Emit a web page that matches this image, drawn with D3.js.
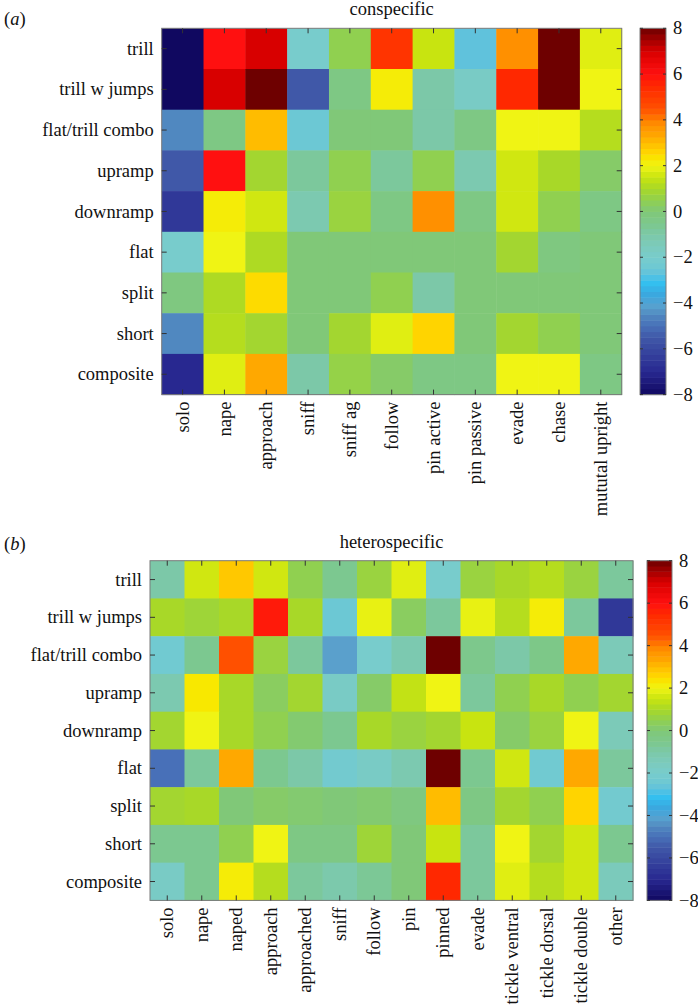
<!DOCTYPE html>
<html><head><meta charset="utf-8">
<script src="https://cdn.jsdelivr.net/npm/d3@7"></script>
<style>
body{margin:0;background:#fff}
text{font-family:"Liberation Serif","Times New Roman",Times,serif;fill:#111}
</style>
</head><body>
<svg id="c" width="698" height="1005"></svg>
<script>
// ---------- data ----------
const rows = ["trill","trill w jumps","flat/trill combo","upramp","downramp","flat","split","short","composite"];
const colsA = ["solo","nape","approach","sniff","sniff ag","follow","pin active","pin passive","evade","chase","mututal upright"];
const colsB = ["solo","nape","naped","approach","approached","sniff","follow","pin","pinned","evade","tickle ventral","tickle dorsal","tickle double","other"];

const valuesA = [
  [-8, 6, 7, -2, 0.5, 5.2, 1.5, -2.7, 3.8, 8, 1.8],
  [-8, 7, 8, -5.5, -0.3, 2.2, -1, -1.8, 5.5, 8, 2],
  [-4.5, -0.3, 3, -2.5, 0, 0, -1, -0.3, 2, 2, 1.2],
  [-5.5, 6, 0.9, -0.8, 0.5, -0.8, 0.5, -1.2, 1.6, 1, 0.2],
  [-6.5, 2.2, 1.6, -1.2, 0.7, -0.3, 3.8, -0.3, 1.6, 0.5, -0.3],
  [-2, 2, 1.1, 0, 0, 0, 0, 0, 0.9, -0.2, 0],
  [-0.2, 1.1, 2.5, 0, 0, 0.5, -1, 0, 0, 0, 0],
  [-4.5, 1.2, 0.9, 0, 0.9, 1.8, 2.6, 0, 0.9, 0.5, 0],
  [-7, 1.8, 3.3, -1, 0.6, 0.2, -0.3, -0.3, 2, 2, -0.3]
];
const valuesB = [
  [-1, 1.6, 2.8, 1.6, 0.5, -0.6, 0.7, 1.8, -2, 0.7, 1, 1.2, 0.7, -0.8],
  [1, 0.8, 1, 5.8, 1, -2.5, 1.9, 0.3, -0.8, 1.9, 1.2, 2.2, -0.8, -6.5],
  [-2.3, -0.6, 4.5, 0.7, -0.8, -4.2, -2, -1.2, 8, -0.5, -1, -0.4, 3.3, -1.4],
  [-1.2, 2.3, 1, 0.3, 0.9, -1.8, 0.2, 1.4, 2, -0.8, 0.5, 1, 0.5, 0.9],
  [0.9, 2, 1, 0.5, 0.1, -0.6, 1, 0.7, 0.9, 1.5, 0.2, 0.7, 2, -1.4],
  [-5, -0.8, 3.3, -0.6, -1, -2.2, -1.8, -1.2, 8, -0.6, 1.6, -2.3, 3.3, -0.8],
  [0.9, 1, 0, 0.2, 0.1, 0, 0.1, -0.2, 3, -0.3, 0.9, 0.5, 2.6, -2.2],
  [-0.6, -0.6, 0.5, 2, -0.3, -0.3, 0.8, 0, 1.5, -0.8, 2, 0.9, 1.6, -0.6],
  [-1.8, -0.6, 2.2, 1.2, -0.8, -1.1, -0.7, 0, 5.5, -0.8, 1.8, 1.2, 1.6, -1.5]
];
const colorTicks = [8, 6, 4, 2, 0, -2, -4, -6, -8];
const cmapDomain = [-8, -7, -6.5, -5.5, -5, -4.5, -4.2, -3.6, -3.1, -2.7, -2.5, -2, -1.4, -1, -0.6, 0, 0.5, 1, 1.5, 2, 2.3, 2.6, 3, 3.3, 3.8, 4.5, 5.5, 6, 7, 8];
const cmapRange = ["#100860","#282890","#303898","#4058a8","#4870b8","#5088c0","#5aa0cc","#3aa8e0","#34c0f0","#60c2dc","#6cc8d4","#78cccc","#7ccab8","#7cc8a8","#7cc890","#80c878","#90d050","#a8d828","#c8e410","#f0f414","#f8e800","#ffd400","#ffbc00","#ffa800","#ff9000","#ff5000","#ff2800","#ff1010","#d80000","#6e0000"];

// ---------- layout ----------
const svg = d3.select("#c");
const color = d3.scaleLinear().domain(cmapDomain).range(cmapRange).interpolate(d3.interpolateRgb).clamp(true);
const FS = 18.5;

function panel(opt) {
  const {cols, values, x0, x1, y0, y1, cbx0, cbx1, title, tag, tagY} = opt;
  const g = svg.append("g");
  const x = d3.scaleBand().domain(cols).range([x0, x1]);
  const y = d3.scaleBand().domain(rows).range([y0, y1]);
  const cells = [];
  rows.forEach((r, i) => cols.forEach((c, j) => cells.push({r, c, v: values[i][j]})));
  g.selectAll("rect.cell").data(cells).enter().append("rect")
    .attr("x", d => x(d.c)).attr("y", d => y(d.r))
    .attr("width", x.bandwidth() + 0.5).attr("height", y.bandwidth() + 0.5)
    .attr("fill", d => color(d.v));
  g.append("rect").attr("x", x0).attr("y", y0).attr("width", x1 - x0).attr("height", y1 - y0)
    .attr("fill", "none").attr("stroke", "#7a7a7a").attr("stroke-width", 1);
  const tl = 5;
  cols.forEach(c => {
    const cx = x(c) + x.bandwidth() / 2;
    g.append("line").attr("x1", cx).attr("x2", cx).attr("y1", y0).attr("y2", y0 + tl).attr("stroke", "#333");
    g.append("line").attr("x1", cx).attr("x2", cx).attr("y1", y1).attr("y2", y1 - tl).attr("stroke", "#333");
    g.append("text").attr("transform", `translate(${cx},${y1 + 7}) rotate(-90)`)
      .attr("text-anchor", "end").attr("dy", "0.33em").attr("font-size", FS).text(c);
  });
  rows.forEach(r => {
    const cy = y(r) + y.bandwidth() / 2;
    g.append("line").attr("x1", x0).attr("x2", x0 + tl).attr("y1", cy).attr("y2", cy).attr("stroke", "#333");
    g.append("line").attr("x1", x1).attr("x2", x1 - tl).attr("y1", cy).attr("y2", cy).attr("stroke", "#333");
    g.append("text").attr("x", x0 - 8).attr("y", cy).attr("dy", "0.33em")
      .attr("text-anchor", "end").attr("font-size", FS).text(r);
  });
  g.append("text").attr("x", (x0 + x1) / 2).attr("y", y0 - 13).attr("text-anchor", "middle")
    .attr("font-size", FS).text(title);
  const t = g.append("text").attr("x", 4).attr("y", tagY).attr("font-size", FS);
  t.append("tspan").text("(");
  t.append("tspan").attr("font-style", "italic").text(tag);
  t.append("tspan").text(")");
  const cb = d3.scaleLinear().domain([-8, 8]).range([y1, y0]);
  const n = 64, step = 16 / n;
  const bands = d3.range(n).map(i => -8 + i * step);
  g.selectAll("rect.cb").data(bands).enter().append("rect")
    .attr("x", cbx0).attr("width", cbx1 - cbx0)
    .attr("y", d => cb(d + step)).attr("height", d => cb(d) - cb(d + step) + 0.5)
    .attr("fill", d => color(d + step / 2));
  g.append("rect").attr("x", cbx0).attr("y", y0).attr("width", cbx1 - cbx0).attr("height", y1 - y0)
    .attr("fill", "none").attr("stroke", "#7a7a7a");
  colorTicks.forEach(v => {
    const ty = cb(v);
    g.append("line").attr("x1", cbx1).attr("x2", cbx1 - 3).attr("y1", ty).attr("y2", ty).attr("stroke", "#333");
    g.append("line").attr("x1", cbx0).attr("x2", cbx0 + 3).attr("y1", ty).attr("y2", ty).attr("stroke", "#333");
    g.append("text").attr("x", cbx1 + 7).attr("y", ty).attr("dy", "0.33em").attr("font-size", FS)
      .text(v < 0 ? "\u2212" + Math.abs(v) : String(v));
  });
}

panel({cols: colsA, values: valuesA, x0: 161.7, x1: 621.7, y0: 28.3, y1: 394.6, cbx0: 640, cbx1: 666,
  title: "conspecific", tag: "a", tagY: 25});
panel({cols: colsB, values: valuesB, x0: 150, x1: 633, y0: 560.7, y1: 900.4, cbx0: 647, cbx1: 672,
  title: "heterospecific", tag: "b", tagY: 550});
</script>
</body></html>
